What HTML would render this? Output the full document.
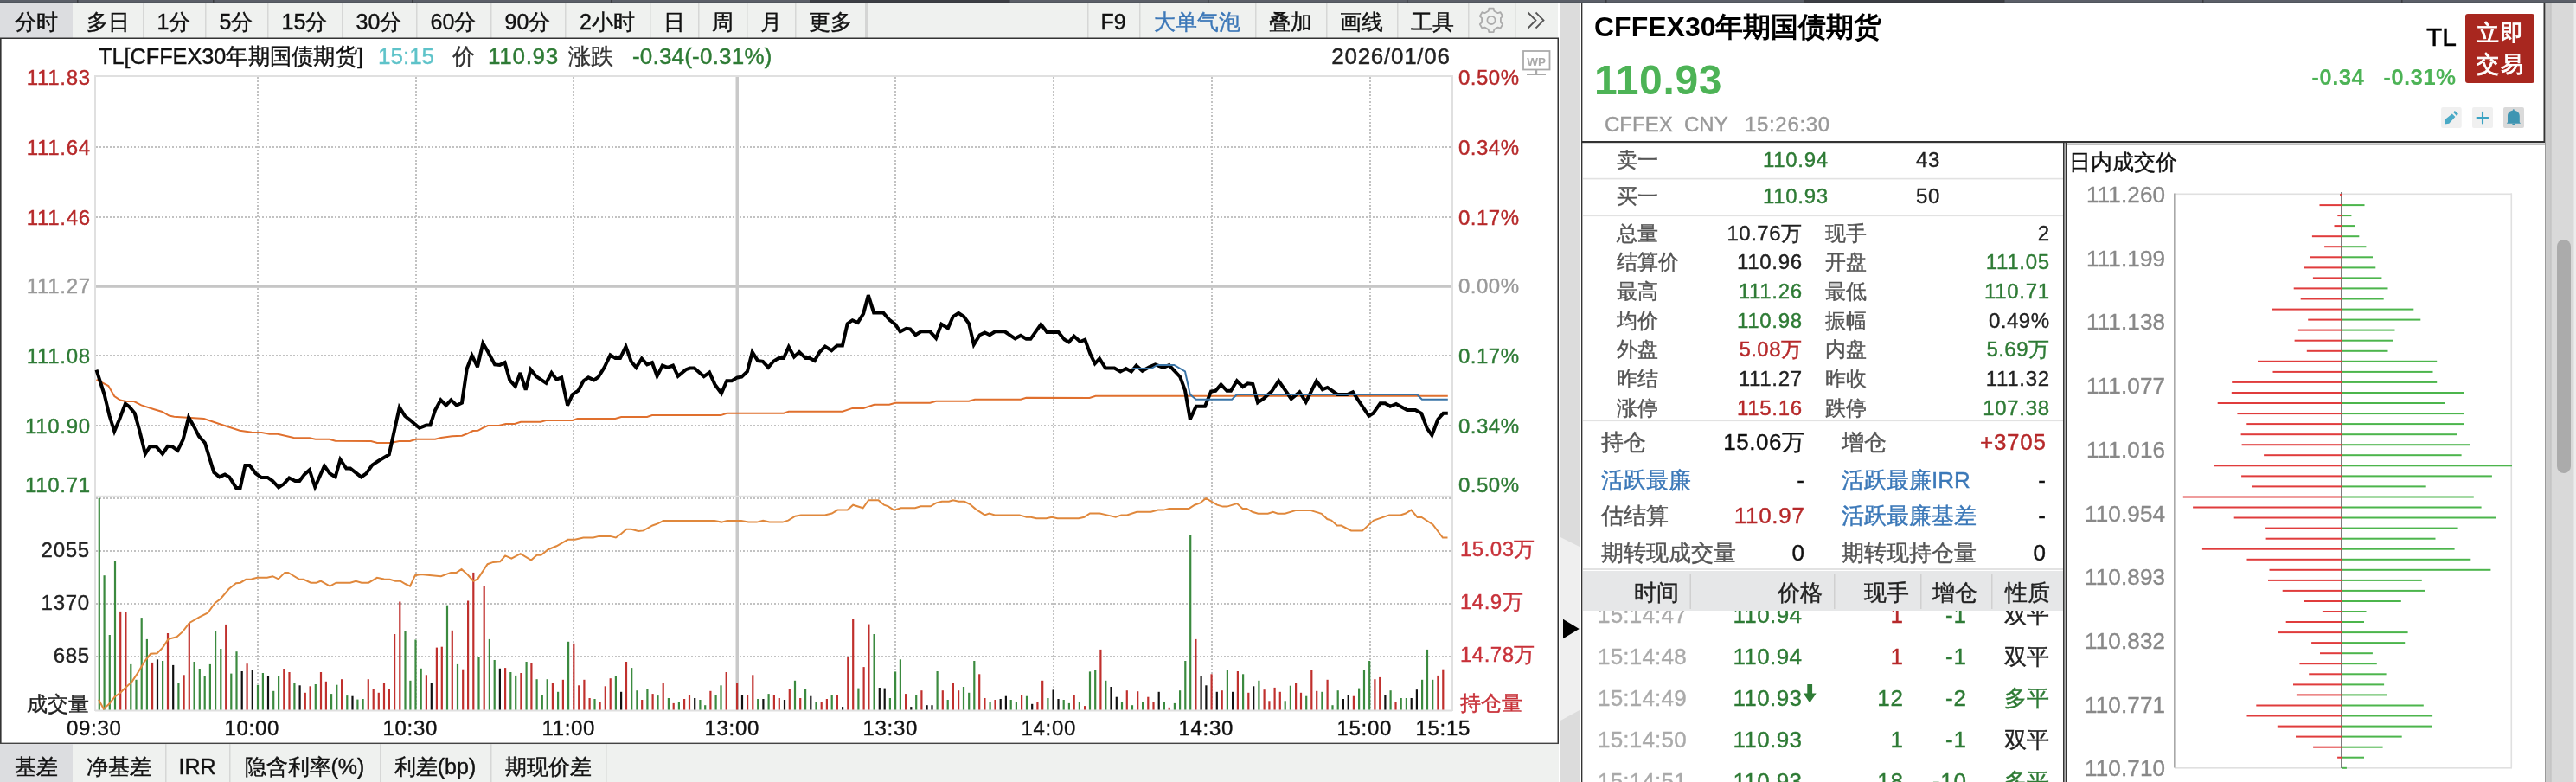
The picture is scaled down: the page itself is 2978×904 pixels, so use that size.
<!DOCTYPE html>
<html><head><meta charset="utf-8"><title>TL CFFEX30年期国债期货</title>
<style>html,body{margin:0;padding:0;background:#fff;overflow:hidden;width:2978px;height:904px}svg{display:block;will-change:transform}text{font-family:"Liberation Sans",sans-serif}</style>
</head><body>
<svg width="2978" height="904" viewBox="0 0 2978 904" font-family="Liberation Sans, sans-serif"><rect x="0" y="0" width="2978" height="4" fill="#5b5f68"/>
<rect x="936" y="0" width="230" height="4" fill="#3c3e44"/>
<rect x="2086" y="0" width="230" height="4" fill="#3c3e44"/>
<rect x="0" y="2.8" width="2978" height="1.2" fill="#2c2e33"/>
<rect x="89" y="0" width="1.5" height="4" fill="#3a3c40"/>
<rect x="246" y="0" width="1.5" height="4" fill="#3a3c40"/>
<rect x="476" y="0" width="1.5" height="4" fill="#3a3c40"/>
<rect x="706" y="0" width="1.5" height="4" fill="#3a3c40"/>
<rect x="936" y="0" width="1.5" height="4" fill="#3a3c40"/>
<rect x="1166" y="0" width="1.5" height="4" fill="#3a3c40"/>
<rect x="1396" y="0" width="1.5" height="4" fill="#3a3c40"/>
<rect x="1626" y="0" width="1.5" height="4" fill="#3a3c40"/>
<rect x="1856" y="0" width="1.5" height="4" fill="#3a3c40"/>
<rect x="2086" y="0" width="1.5" height="4" fill="#3a3c40"/>
<rect x="2316" y="0" width="1.5" height="4" fill="#3a3c40"/>
<rect x="2546" y="0" width="1.5" height="4" fill="#3a3c40"/>
<rect x="2776" y="0" width="1.5" height="4" fill="#3a3c40"/>
<rect x="0" y="4" width="1801" height="40" fill="#eff1ef"/>
<rect x="0" y="4" width="84" height="40" fill="#dcdde0"/>
<rect x="165" y="4" width="1.5" height="40" fill="#d6d7d6"/>
<rect x="237" y="4" width="1.5" height="40" fill="#d6d7d6"/>
<rect x="309" y="4" width="1.5" height="40" fill="#d6d7d6"/>
<rect x="395" y="4" width="1.5" height="40" fill="#d6d7d6"/>
<rect x="481" y="4" width="1.5" height="40" fill="#d6d7d6"/>
<rect x="567" y="4" width="1.5" height="40" fill="#d6d7d6"/>
<rect x="653" y="4" width="1.5" height="40" fill="#d6d7d6"/>
<rect x="751" y="4" width="1.5" height="40" fill="#d6d7d6"/>
<rect x="807" y="4" width="1.5" height="40" fill="#d6d7d6"/>
<rect x="863" y="4" width="1.5" height="40" fill="#d6d7d6"/>
<rect x="919" y="4" width="1.5" height="40" fill="#d6d7d6"/>
<rect x="1000" y="4" width="3.5" height="40" fill="#d4d5d4"/>
<text x="42.0" y="33.5" font-size="25" fill="#111" text-anchor="middle" stroke="#111" stroke-width="0.4" >分时</text>
<text x="124.5" y="33.5" font-size="25" fill="#111" text-anchor="middle" stroke="#111" stroke-width="0.4" >多日</text>
<text x="201.0" y="33.5" font-size="25" fill="#111" text-anchor="middle" stroke="#111" stroke-width="0.4" >1分</text>
<text x="273.0" y="33.5" font-size="25" fill="#111" text-anchor="middle" stroke="#111" stroke-width="0.4" >5分</text>
<text x="352.0" y="33.5" font-size="25" fill="#111" text-anchor="middle" stroke="#111" stroke-width="0.4" >15分</text>
<text x="438.0" y="33.5" font-size="25" fill="#111" text-anchor="middle" stroke="#111" stroke-width="0.4" >30分</text>
<text x="524.0" y="33.5" font-size="25" fill="#111" text-anchor="middle" stroke="#111" stroke-width="0.4" >60分</text>
<text x="610.0" y="33.5" font-size="25" fill="#111" text-anchor="middle" stroke="#111" stroke-width="0.4" >90分</text>
<text x="702.0" y="33.5" font-size="25" fill="#111" text-anchor="middle" stroke="#111" stroke-width="0.4" >2小时</text>
<text x="779.0" y="33.5" font-size="25" fill="#111" text-anchor="middle" stroke="#111" stroke-width="0.4" >日</text>
<text x="835.0" y="33.5" font-size="25" fill="#111" text-anchor="middle" stroke="#111" stroke-width="0.4" >周</text>
<text x="891.0" y="33.5" font-size="25" fill="#111" text-anchor="middle" stroke="#111" stroke-width="0.4" >月</text>
<text x="960.0" y="33.5" font-size="25" fill="#111" text-anchor="middle" stroke="#111" stroke-width="0.4" >更多</text>
<rect x="1257" y="4" width="1.5" height="40" fill="#d6d7d6"/>
<rect x="1317" y="4" width="1.5" height="40" fill="#d6d7d6"/>
<rect x="1451" y="4" width="1.5" height="40" fill="#d6d7d6"/>
<rect x="1533" y="4" width="1.5" height="40" fill="#d6d7d6"/>
<rect x="1615" y="4" width="1.5" height="40" fill="#d6d7d6"/>
<rect x="1697" y="4" width="1.5" height="40" fill="#d6d7d6"/>
<rect x="1751" y="4" width="1.5" height="40" fill="#d6d7d6"/>
<text x="1287.0" y="33.5" font-size="25" fill="#111" text-anchor="middle" stroke="#111" stroke-width="0.4" >F9</text>
<text x="1384.0" y="33.5" font-size="25" fill="#3d78b8" text-anchor="middle" stroke="#3d78b8" stroke-width="0.4" >大单气泡</text>
<text x="1492.0" y="33.5" font-size="25" fill="#111" text-anchor="middle" stroke="#111" stroke-width="0.4" >叠加</text>
<text x="1574.0" y="33.5" font-size="25" fill="#111" text-anchor="middle" stroke="#111" stroke-width="0.4" >画线</text>
<text x="1656.0" y="33.5" font-size="25" fill="#111" text-anchor="middle" stroke="#111" stroke-width="0.4" >工具</text>
<path d="M1720.7,12.7 L1721.3,9.7 L1726.7,9.7 L1727.3,12.7 L1731.6,15.2 L1734.6,14.2 L1737.2,18.8 L1734.9,20.9 L1734.9,25.9 L1737.2,28.0 L1734.6,32.6 L1731.6,31.6 L1727.3,34.1 L1726.7,37.1 L1721.3,37.1 L1720.7,34.1 L1716.4,31.6 L1713.4,32.6 L1710.8,28.0 L1713.1,25.9 L1713.1,20.9 L1710.8,18.8 L1713.4,14.2 L1716.4,15.2 Z" fill="none" stroke="#ababab" stroke-width="1.8" stroke-linejoin="round"/>
<circle cx="1724" cy="23.4" r="4.6" fill="none" stroke="#ababab" stroke-width="1.8"/>
<path d="M1766.5,14.5 L1775.5,23.5 L1766.5,32.5 M1775.5,14.5 L1784.5,23.5 L1775.5,32.5" fill="none" stroke="#555" stroke-width="1.8"/>
<rect x="0" y="43.5" width="1802" height="2" fill="#333"/>
<rect x="0" y="45" width="1802" height="814" fill="#fff"/>
<rect x="0" y="45" width="1.6" height="814" fill="#333"/>
<rect x="1800.5" y="45" width="1.6" height="814" fill="#333"/>
<rect x="0" y="858.6" width="1802" height="1.6" fill="#444"/>
<text x="114.0" y="74" font-size="26" fill="#111" text-anchor="start" stroke="#111" stroke-width="0.4" textLength="306" lengthAdjust="spacingAndGlyphs">TL[CFFEX30年期国债期货]</text>
<text x="437.0" y="74" font-size="26" fill="#5ec3c9" text-anchor="start" stroke="#5ec3c9" stroke-width="0.4" >15:15</text>
<text x="523.0" y="74" font-size="26" fill="#333" text-anchor="start" stroke="#333" stroke-width="0.4" >价</text>
<text x="564.0" y="74" font-size="26" fill="#2e7b35" text-anchor="start" letter-spacing="0.73" stroke="#2e7b35" stroke-width="0.4" >110.93</text>
<text x="657.0" y="74" font-size="26" fill="#333" text-anchor="start" stroke="#333" stroke-width="0.4" >涨跌</text>
<text x="731.0" y="74" font-size="26" fill="#2e7b35" text-anchor="start" letter-spacing="0.20" stroke="#2e7b35" stroke-width="0.4" >-0.34(-0.31%)</text>
<text x="1676.7" y="74" font-size="26" fill="#222" text-anchor="end" letter-spacing="0.73" stroke="#222" stroke-width="0.4" >2026/01/06</text>
<rect x="1761" y="59" width="30.5" height="21.5" fill="none" stroke="#aaa" stroke-width="1.8"/>
<text x="1776.2" y="75.6" font-size="13.5" font-weight="bold" fill="#aaa" text-anchor="middle">WP</text>
<rect x="1775" y="80.5" width="2.2" height="5" fill="#aaa"/>
<rect x="1765" y="85" width="22" height="2" fill="#aaa"/>
<line x1="111" y1="170" x2="1679" y2="170" stroke="#c2c2c2" stroke-width="2" stroke-dasharray="2 2"/>
<line x1="111" y1="251" x2="1679" y2="251" stroke="#c2c2c2" stroke-width="2" stroke-dasharray="2 2"/>
<line x1="111" y1="411" x2="1679" y2="411" stroke="#c2c2c2" stroke-width="2" stroke-dasharray="2 2"/>
<line x1="111" y1="492" x2="1679" y2="492" stroke="#c2c2c2" stroke-width="2" stroke-dasharray="2 2"/>
<line x1="298" y1="89" x2="298" y2="573" stroke="#c2c2c2" stroke-width="2" stroke-dasharray="2 2"/>
<line x1="298" y1="577" x2="298" y2="821" stroke="#c2c2c2" stroke-width="2" stroke-dasharray="2 2"/>
<line x1="481" y1="89" x2="481" y2="573" stroke="#c2c2c2" stroke-width="2" stroke-dasharray="2 2"/>
<line x1="481" y1="577" x2="481" y2="821" stroke="#c2c2c2" stroke-width="2" stroke-dasharray="2 2"/>
<line x1="663" y1="89" x2="663" y2="573" stroke="#c2c2c2" stroke-width="2" stroke-dasharray="2 2"/>
<line x1="663" y1="577" x2="663" y2="821" stroke="#c2c2c2" stroke-width="2" stroke-dasharray="2 2"/>
<line x1="1035" y1="89" x2="1035" y2="573" stroke="#c2c2c2" stroke-width="2" stroke-dasharray="2 2"/>
<line x1="1035" y1="577" x2="1035" y2="821" stroke="#c2c2c2" stroke-width="2" stroke-dasharray="2 2"/>
<line x1="1218" y1="89" x2="1218" y2="573" stroke="#c2c2c2" stroke-width="2" stroke-dasharray="2 2"/>
<line x1="1218" y1="577" x2="1218" y2="821" stroke="#c2c2c2" stroke-width="2" stroke-dasharray="2 2"/>
<line x1="1401" y1="89" x2="1401" y2="573" stroke="#c2c2c2" stroke-width="2" stroke-dasharray="2 2"/>
<line x1="1401" y1="577" x2="1401" y2="821" stroke="#c2c2c2" stroke-width="2" stroke-dasharray="2 2"/>
<line x1="1584" y1="89" x2="1584" y2="573" stroke="#c2c2c2" stroke-width="2" stroke-dasharray="2 2"/>
<line x1="1584" y1="577" x2="1584" y2="821" stroke="#c2c2c2" stroke-width="2" stroke-dasharray="2 2"/>
<line x1="111" y1="576" x2="1679" y2="576" stroke="#c2c2c2" stroke-width="2" stroke-dasharray="2 2"/>
<line x1="111" y1="637" x2="1679" y2="637" stroke="#c2c2c2" stroke-width="2" stroke-dasharray="2 2"/>
<line x1="111" y1="698" x2="1679" y2="698" stroke="#c2c2c2" stroke-width="2" stroke-dasharray="2 2"/>
<line x1="111" y1="759" x2="1679" y2="759" stroke="#c2c2c2" stroke-width="2" stroke-dasharray="2 2"/>
<rect x="110" y="329.3" width="1569" height="3.5" fill="#c6c6c6"/>
<rect x="850.5" y="88" width="3.5" height="733" fill="#c9c9c9"/>
<rect x="110" y="572.8" width="1569" height="2" fill="#e2e2e2"/>
<rect x="110" y="87" width="1569" height="2" fill="#e0e0e0"/>
<rect x="109" y="87" width="2" height="735" fill="#e0e0e0"/>
<rect x="1678" y="87" width="2" height="735" fill="#e0e0e0"/>
<rect x="110" y="820.5" width="1569" height="2" fill="#e0e0e0"/>
<text x="104.7" y="98" font-size="24" fill="#b6292a" text-anchor="end" letter-spacing="0.67" stroke="#b6292a" stroke-width="0.4" >111.83</text>
<text x="104.7" y="179" font-size="24" fill="#b6292a" text-anchor="end" letter-spacing="0.67" stroke="#b6292a" stroke-width="0.4" >111.64</text>
<text x="104.7" y="259.5" font-size="24" fill="#b6292a" text-anchor="end" letter-spacing="0.67" stroke="#b6292a" stroke-width="0.4" >111.46</text>
<text x="104.7" y="339" font-size="24" fill="#999" text-anchor="end" letter-spacing="0.67" stroke="#999" stroke-width="0.4" >111.27</text>
<text x="104.7" y="420" font-size="24" fill="#2e7b35" text-anchor="end" letter-spacing="0.67" stroke="#2e7b35" stroke-width="0.4" >111.08</text>
<text x="104.7" y="500.5" font-size="24" fill="#2e7b35" text-anchor="end" letter-spacing="0.67" stroke="#2e7b35" stroke-width="0.4" >110.90</text>
<text x="104.7" y="569" font-size="24" fill="#2e7b35" text-anchor="end" letter-spacing="0.67" stroke="#2e7b35" stroke-width="0.4" >110.71</text>
<text x="1686.0" y="98" font-size="24" fill="#b6292a" text-anchor="start" letter-spacing="0.48" stroke="#b6292a" stroke-width="0.4" >0.50%</text>
<text x="1686.0" y="179" font-size="24" fill="#b6292a" text-anchor="start" letter-spacing="0.48" stroke="#b6292a" stroke-width="0.4" >0.34%</text>
<text x="1686.0" y="259.5" font-size="24" fill="#b6292a" text-anchor="start" letter-spacing="0.48" stroke="#b6292a" stroke-width="0.4" >0.17%</text>
<text x="1686.0" y="339" font-size="24" fill="#999" text-anchor="start" letter-spacing="0.48" stroke="#999" stroke-width="0.4" >0.00%</text>
<text x="1686.0" y="420" font-size="24" fill="#2e7b35" text-anchor="start" letter-spacing="0.48" stroke="#2e7b35" stroke-width="0.4" >0.17%</text>
<text x="1686.0" y="500.5" font-size="24" fill="#2e7b35" text-anchor="start" letter-spacing="0.48" stroke="#2e7b35" stroke-width="0.4" >0.34%</text>
<text x="1686.0" y="569" font-size="24" fill="#2e7b35" text-anchor="start" letter-spacing="0.48" stroke="#2e7b35" stroke-width="0.4" >0.50%</text>
<text x="103.7" y="644" font-size="24" fill="#222" text-anchor="end" letter-spacing="0.67" stroke="#222" stroke-width="0.4" >2055</text>
<text x="103.7" y="705" font-size="24" fill="#222" text-anchor="end" letter-spacing="0.67" stroke="#222" stroke-width="0.4" >1370</text>
<text x="103.7" y="766" font-size="24" fill="#222" text-anchor="end" letter-spacing="0.67" stroke="#222" stroke-width="0.4" >685</text>
<text x="103.0" y="822" font-size="24" fill="#222" text-anchor="end" stroke="#222" stroke-width="0.4" >成交量</text>
<text x="1688.0" y="643" font-size="24" fill="#c8323a" text-anchor="start" letter-spacing="0.48" stroke="#c8323a" stroke-width="0.4" >15.03万</text>
<text x="1688.0" y="704" font-size="24" fill="#c8323a" text-anchor="start" letter-spacing="0.48" stroke="#c8323a" stroke-width="0.4" >14.9万</text>
<text x="1688.0" y="765" font-size="24" fill="#c8323a" text-anchor="start" letter-spacing="0.48" stroke="#c8323a" stroke-width="0.4" >14.78万</text>
<text x="1688.0" y="821" font-size="24" fill="#c8323a" text-anchor="start" stroke="#c8323a" stroke-width="0.4" >持仓量</text>
<text x="108.8" y="850" font-size="24" fill="#111" text-anchor="middle" letter-spacing="0.67" stroke="#111" stroke-width="0.4" >09:30</text>
<text x="291.3" y="850" font-size="24" fill="#111" text-anchor="middle" letter-spacing="0.67" stroke="#111" stroke-width="0.4" >10:00</text>
<text x="474.3" y="850" font-size="24" fill="#111" text-anchor="middle" letter-spacing="0.67" stroke="#111" stroke-width="0.4" >10:30</text>
<text x="657.3" y="850" font-size="24" fill="#111" text-anchor="middle" letter-spacing="0.67" stroke="#111" stroke-width="0.4" >11:00</text>
<text x="846.3" y="850" font-size="24" fill="#111" text-anchor="middle" letter-spacing="0.67" stroke="#111" stroke-width="0.4" >13:00</text>
<text x="1029.3" y="850" font-size="24" fill="#111" text-anchor="middle" letter-spacing="0.67" stroke="#111" stroke-width="0.4" >13:30</text>
<text x="1212.3" y="850" font-size="24" fill="#111" text-anchor="middle" letter-spacing="0.67" stroke="#111" stroke-width="0.4" >14:00</text>
<text x="1394.3" y="850" font-size="24" fill="#111" text-anchor="middle" letter-spacing="0.67" stroke="#111" stroke-width="0.4" >14:30</text>
<text x="1577.3" y="850" font-size="24" fill="#111" text-anchor="middle" letter-spacing="0.67" stroke="#111" stroke-width="0.4" >15:00</text>
<text x="1668.3" y="850" font-size="24" fill="#111" text-anchor="middle" letter-spacing="0.67" stroke="#111" stroke-width="0.4" >15:15</text>
<rect x="113.7" y="575.9" width="2.2" height="244.6" fill="#3b8a3f"/>
<rect x="119.5" y="665.2" width="2.2" height="155.3" fill="#3b8a3f"/>
<rect x="125.7" y="734.0" width="2.2" height="86.5" fill="#3b8a3f"/>
<rect x="131.9" y="648.2" width="2.2" height="172.3" fill="#3b8a3f"/>
<rect x="138.1" y="706.9" width="2.2" height="113.6" fill="#c0302d"/>
<rect x="144.3" y="707.9" width="2.2" height="112.6" fill="#c0302d"/>
<rect x="150.2" y="767.9" width="2.2" height="52.6" fill="#3b8a3f"/>
<rect x="156.4" y="785.8" width="2.2" height="34.7" fill="#3b8a3f"/>
<rect x="162.6" y="714.1" width="2.2" height="106.4" fill="#3b8a3f"/>
<rect x="168.8" y="738.9" width="2.2" height="81.6" fill="#3b8a3f"/>
<rect x="175.0" y="765.9" width="2.2" height="54.6" fill="#c0302d"/>
<rect x="180.9" y="762.3" width="2.2" height="58.2" fill="#111"/>
<rect x="187.0" y="764.0" width="2.2" height="56.5" fill="#3b8a3f"/>
<rect x="192.9" y="732.0" width="2.2" height="88.5" fill="#c0302d"/>
<rect x="199.1" y="768.9" width="2.2" height="51.6" fill="#111"/>
<rect x="205.3" y="790.0" width="2.2" height="30.5" fill="#3b8a3f"/>
<rect x="211.5" y="780.3" width="2.2" height="40.2" fill="#c0302d"/>
<rect x="217.7" y="720.0" width="2.2" height="100.5" fill="#c0302d"/>
<rect x="223.5" y="765.0" width="2.2" height="55.5" fill="#3b8a3f"/>
<rect x="229.7" y="773.0" width="2.2" height="47.5" fill="#3b8a3f"/>
<rect x="235.6" y="781.9" width="2.2" height="38.6" fill="#3b8a3f"/>
<rect x="241.8" y="767.9" width="2.2" height="52.6" fill="#3b8a3f"/>
<rect x="248.0" y="729.7" width="2.2" height="90.8" fill="#3b8a3f"/>
<rect x="254.2" y="750.0" width="2.2" height="70.5" fill="#3b8a3f"/>
<rect x="260.1" y="721.9" width="2.2" height="98.6" fill="#c0302d"/>
<rect x="266.2" y="778.6" width="2.2" height="41.9" fill="#3b8a3f"/>
<rect x="272.4" y="753.2" width="2.2" height="67.3" fill="#3b8a3f"/>
<rect x="278.6" y="776.0" width="2.2" height="44.5" fill="#111"/>
<rect x="284.5" y="767.2" width="2.2" height="53.3" fill="#c0302d"/>
<rect x="290.7" y="774.7" width="2.2" height="45.8" fill="#111"/>
<rect x="296.9" y="791.7" width="2.2" height="28.8" fill="#3b8a3f"/>
<rect x="302.8" y="778.0" width="2.2" height="42.5" fill="#3b8a3f"/>
<rect x="308.9" y="781.9" width="2.2" height="38.6" fill="#111"/>
<rect x="315.1" y="798.8" width="2.2" height="21.7" fill="#3b8a3f"/>
<rect x="321.0" y="781.9" width="2.2" height="38.6" fill="#3b8a3f"/>
<rect x="327.2" y="773.0" width="2.2" height="47.5" fill="#c0302d"/>
<rect x="333.4" y="777.0" width="2.2" height="43.5" fill="#c0302d"/>
<rect x="339.3" y="789.0" width="2.2" height="31.5" fill="#3b8a3f"/>
<rect x="345.5" y="792.3" width="2.2" height="28.2" fill="#111"/>
<rect x="351.7" y="800.8" width="2.2" height="19.7" fill="#c0302d"/>
<rect x="357.5" y="793.3" width="2.2" height="27.2" fill="#c0302d"/>
<rect x="363.7" y="791.0" width="2.2" height="29.5" fill="#3b8a3f"/>
<rect x="369.9" y="777.0" width="2.2" height="43.5" fill="#c0302d"/>
<rect x="375.8" y="787.8" width="2.2" height="32.7" fill="#c0302d"/>
<rect x="382.0" y="802.1" width="2.2" height="18.4" fill="#3b8a3f"/>
<rect x="388.2" y="791.7" width="2.2" height="28.8" fill="#3b8a3f"/>
<rect x="394.0" y="785.2" width="2.2" height="35.3" fill="#c0302d"/>
<rect x="400.2" y="804.1" width="2.2" height="16.4" fill="#3b8a3f"/>
<rect x="406.4" y="804.7" width="2.2" height="15.8" fill="#111"/>
<rect x="412.3" y="808.6" width="2.2" height="11.9" fill="#3b8a3f"/>
<rect x="418.5" y="808.0" width="2.2" height="12.5" fill="#3b8a3f"/>
<rect x="424.7" y="785.2" width="2.2" height="35.3" fill="#c0302d"/>
<rect x="430.6" y="796.6" width="2.2" height="23.9" fill="#c0302d"/>
<rect x="436.7" y="800.8" width="2.2" height="19.7" fill="#c0302d"/>
<rect x="442.9" y="790.0" width="2.2" height="30.5" fill="#c0302d"/>
<rect x="448.8" y="796.6" width="2.2" height="23.9" fill="#c0302d"/>
<rect x="455.0" y="733.0" width="2.2" height="87.5" fill="#c0302d"/>
<rect x="461.2" y="695.5" width="2.2" height="125.0" fill="#c0302d"/>
<rect x="467.4" y="729.1" width="2.2" height="91.4" fill="#3b8a3f"/>
<rect x="473.3" y="786.8" width="2.2" height="33.7" fill="#3b8a3f"/>
<rect x="479.4" y="739.5" width="2.2" height="81.0" fill="#3b8a3f"/>
<rect x="485.6" y="772.8" width="2.2" height="47.7" fill="#3b8a3f"/>
<rect x="491.8" y="780.3" width="2.2" height="40.2" fill="#c0302d"/>
<rect x="497.7" y="790.0" width="2.2" height="30.5" fill="#111"/>
<rect x="503.8" y="748.6" width="2.2" height="71.9" fill="#c0302d"/>
<rect x="509.7" y="747.7" width="2.2" height="72.8" fill="#c0302d"/>
<rect x="515.9" y="699.7" width="2.2" height="120.8" fill="#3b8a3f"/>
<rect x="521.7" y="728.8" width="2.2" height="91.7" fill="#c0302d"/>
<rect x="527.9" y="767.9" width="2.2" height="52.6" fill="#3b8a3f"/>
<rect x="534.1" y="773.7" width="2.2" height="46.8" fill="#c0302d"/>
<rect x="540.0" y="694.5" width="2.2" height="126.0" fill="#c0302d"/>
<rect x="546.2" y="661.9" width="2.2" height="158.6" fill="#c0302d"/>
<rect x="552.4" y="759.7" width="2.2" height="60.8" fill="#3b8a3f"/>
<rect x="558.6" y="677.6" width="2.2" height="142.9" fill="#c0302d"/>
<rect x="564.8" y="738.9" width="2.2" height="81.6" fill="#3b8a3f"/>
<rect x="570.6" y="763.0" width="2.2" height="57.5" fill="#3b8a3f"/>
<rect x="576.8" y="772.8" width="2.2" height="47.7" fill="#111"/>
<rect x="583.0" y="772.1" width="2.2" height="48.4" fill="#c0302d"/>
<rect x="589.2" y="777.0" width="2.2" height="43.5" fill="#3b8a3f"/>
<rect x="595.1" y="780.9" width="2.2" height="39.6" fill="#3b8a3f"/>
<rect x="601.3" y="778.0" width="2.2" height="42.5" fill="#c0302d"/>
<rect x="607.5" y="765.0" width="2.2" height="55.5" fill="#3b8a3f"/>
<rect x="613.3" y="766.6" width="2.2" height="53.9" fill="#c0302d"/>
<rect x="619.5" y="785.2" width="2.2" height="35.3" fill="#3b8a3f"/>
<rect x="625.7" y="803.7" width="2.2" height="16.8" fill="#3b8a3f"/>
<rect x="631.6" y="785.2" width="2.2" height="35.3" fill="#3b8a3f"/>
<rect x="637.8" y="789.1" width="2.2" height="31.4" fill="#c0302d"/>
<rect x="644.0" y="799.8" width="2.2" height="20.7" fill="#3b8a3f"/>
<rect x="649.8" y="785.8" width="2.2" height="34.7" fill="#c0302d"/>
<rect x="656.0" y="741.8" width="2.2" height="78.7" fill="#3b8a3f"/>
<rect x="662.2" y="743.8" width="2.2" height="76.7" fill="#c0302d"/>
<rect x="668.1" y="792.3" width="2.2" height="28.2" fill="#c0302d"/>
<rect x="674.3" y="785.8" width="2.2" height="34.7" fill="#c0302d"/>
<rect x="680.5" y="807.0" width="2.2" height="13.5" fill="#c0302d"/>
<rect x="686.4" y="808.0" width="2.2" height="12.5" fill="#3b8a3f"/>
<rect x="692.5" y="811.2" width="2.2" height="9.3" fill="#c0302d"/>
<rect x="698.7" y="793.3" width="2.2" height="27.2" fill="#c0302d"/>
<rect x="704.6" y="784.2" width="2.2" height="36.3" fill="#c0302d"/>
<rect x="710.8" y="781.9" width="2.2" height="38.6" fill="#3b8a3f"/>
<rect x="717.0" y="799.8" width="2.2" height="20.7" fill="#111"/>
<rect x="722.9" y="765.0" width="2.2" height="55.5" fill="#c0302d"/>
<rect x="729.1" y="772.1" width="2.2" height="48.4" fill="#3b8a3f"/>
<rect x="735.3" y="798.2" width="2.2" height="22.3" fill="#3b8a3f"/>
<rect x="741.1" y="809.0" width="2.2" height="11.5" fill="#c0302d"/>
<rect x="747.3" y="796.6" width="2.2" height="23.9" fill="#3b8a3f"/>
<rect x="753.5" y="802.1" width="2.2" height="18.4" fill="#c0302d"/>
<rect x="759.4" y="804.1" width="2.2" height="16.4" fill="#3b8a3f"/>
<rect x="765.6" y="790.0" width="2.2" height="30.5" fill="#c0302d"/>
<rect x="771.8" y="807.0" width="2.2" height="13.5" fill="#3b8a3f"/>
<rect x="777.6" y="812.9" width="2.2" height="7.6" fill="#c0302d"/>
<rect x="783.8" y="811.2" width="2.2" height="9.3" fill="#3b8a3f"/>
<rect x="790.0" y="808.0" width="2.2" height="12.5" fill="#c0302d"/>
<rect x="795.9" y="803.1" width="2.2" height="17.4" fill="#c0302d"/>
<rect x="802.1" y="807.0" width="2.2" height="13.5" fill="#111"/>
<rect x="808.3" y="809.0" width="2.2" height="11.5" fill="#3b8a3f"/>
<rect x="814.1" y="815.2" width="2.2" height="5.3" fill="#3b8a3f"/>
<rect x="820.3" y="798.8" width="2.2" height="21.7" fill="#c0302d"/>
<rect x="826.5" y="803.1" width="2.2" height="17.4" fill="#3b8a3f"/>
<rect x="832.4" y="792.3" width="2.2" height="28.2" fill="#3b8a3f"/>
<rect x="838.6" y="777.0" width="2.2" height="43.5" fill="#c0302d"/>
<rect x="851.0" y="789.0" width="2.2" height="31.5" fill="#c0302d"/>
<rect x="856.9" y="803.7" width="2.2" height="16.8" fill="#111"/>
<rect x="863.0" y="803.1" width="2.2" height="17.4" fill="#c0302d"/>
<rect x="869.2" y="780.3" width="2.2" height="40.2" fill="#c0302d"/>
<rect x="875.1" y="808.0" width="2.2" height="12.5" fill="#3b8a3f"/>
<rect x="881.3" y="808.0" width="2.2" height="12.5" fill="#111"/>
<rect x="887.5" y="802.1" width="2.2" height="18.4" fill="#3b8a3f"/>
<rect x="893.8" y="803.7" width="2.2" height="16.8" fill="#c0302d"/>
<rect x="899.7" y="807.0" width="2.2" height="13.5" fill="#c0302d"/>
<rect x="905.9" y="809.0" width="2.2" height="11.5" fill="#111"/>
<rect x="911.7" y="796.6" width="2.2" height="23.9" fill="#c0302d"/>
<rect x="917.9" y="786.8" width="2.2" height="33.7" fill="#3b8a3f"/>
<rect x="924.1" y="807.0" width="2.2" height="13.5" fill="#c0302d"/>
<rect x="930.0" y="796.6" width="2.2" height="23.9" fill="#3b8a3f"/>
<rect x="936.2" y="804.7" width="2.2" height="15.8" fill="#111"/>
<rect x="942.4" y="811.9" width="2.2" height="8.6" fill="#3b8a3f"/>
<rect x="948.6" y="811.9" width="2.2" height="8.6" fill="#c0302d"/>
<rect x="954.8" y="808.0" width="2.2" height="12.5" fill="#c0302d"/>
<rect x="960.6" y="803.1" width="2.2" height="17.4" fill="#3b8a3f"/>
<rect x="966.8" y="803.1" width="2.2" height="17.4" fill="#c0302d"/>
<rect x="973.0" y="817.1" width="2.2" height="3.4" fill="#111"/>
<rect x="979.2" y="759.7" width="2.2" height="60.8" fill="#c0302d"/>
<rect x="985.1" y="716.0" width="2.2" height="104.5" fill="#c0302d"/>
<rect x="991.3" y="795.6" width="2.2" height="24.9" fill="#3b8a3f"/>
<rect x="997.5" y="771.1" width="2.2" height="49.4" fill="#c0302d"/>
<rect x="1003.3" y="721.6" width="2.2" height="98.9" fill="#c0302d"/>
<rect x="1009.5" y="733.0" width="2.2" height="87.5" fill="#3b8a3f"/>
<rect x="1015.7" y="795.0" width="2.2" height="25.5" fill="#111"/>
<rect x="1021.6" y="795.6" width="2.2" height="24.9" fill="#111"/>
<rect x="1027.8" y="807.0" width="2.2" height="13.5" fill="#3b8a3f"/>
<rect x="1034.0" y="776.4" width="2.2" height="44.1" fill="#3b8a3f"/>
<rect x="1039.8" y="762.3" width="2.2" height="58.2" fill="#3b8a3f"/>
<rect x="1046.0" y="802.1" width="2.2" height="18.4" fill="#c0302d"/>
<rect x="1052.2" y="817.1" width="2.2" height="3.4" fill="#111"/>
<rect x="1058.1" y="803.7" width="2.2" height="16.8" fill="#3b8a3f"/>
<rect x="1064.3" y="798.2" width="2.2" height="22.3" fill="#c0302d"/>
<rect x="1070.5" y="815.2" width="2.2" height="5.3" fill="#111"/>
<rect x="1076.4" y="815.2" width="2.2" height="5.3" fill="#111"/>
<rect x="1082.5" y="776.0" width="2.2" height="44.5" fill="#3b8a3f"/>
<rect x="1088.7" y="798.2" width="2.2" height="22.3" fill="#c0302d"/>
<rect x="1094.6" y="809.0" width="2.2" height="11.5" fill="#3b8a3f"/>
<rect x="1100.8" y="790.0" width="2.2" height="30.5" fill="#c0302d"/>
<rect x="1107.0" y="798.2" width="2.2" height="22.3" fill="#c0302d"/>
<rect x="1112.9" y="794.0" width="2.2" height="26.5" fill="#3b8a3f"/>
<rect x="1119.1" y="800.8" width="2.2" height="19.7" fill="#3b8a3f"/>
<rect x="1125.2" y="764.0" width="2.2" height="56.5" fill="#3b8a3f"/>
<rect x="1131.1" y="779.3" width="2.2" height="41.2" fill="#c0302d"/>
<rect x="1137.3" y="807.0" width="2.2" height="13.5" fill="#c0302d"/>
<rect x="1143.5" y="811.2" width="2.2" height="9.3" fill="#3b8a3f"/>
<rect x="1149.4" y="809.0" width="2.2" height="11.5" fill="#c0302d"/>
<rect x="1155.6" y="808.0" width="2.2" height="12.5" fill="#111"/>
<rect x="1161.8" y="804.7" width="2.2" height="15.8" fill="#111"/>
<rect x="1167.6" y="809.0" width="2.2" height="11.5" fill="#3b8a3f"/>
<rect x="1173.8" y="811.2" width="2.2" height="9.3" fill="#3b8a3f"/>
<rect x="1180.0" y="803.1" width="2.2" height="17.4" fill="#c0302d"/>
<rect x="1185.9" y="804.7" width="2.2" height="15.8" fill="#3b8a3f"/>
<rect x="1192.1" y="813.8" width="2.2" height="6.7" fill="#111"/>
<rect x="1198.3" y="811.9" width="2.2" height="8.6" fill="#c0302d"/>
<rect x="1204.1" y="786.8" width="2.2" height="33.7" fill="#c0302d"/>
<rect x="1210.3" y="807.0" width="2.2" height="13.5" fill="#3b8a3f"/>
<rect x="1216.5" y="797.5" width="2.2" height="23.0" fill="#111"/>
<rect x="1222.4" y="808.0" width="2.2" height="12.5" fill="#111"/>
<rect x="1228.6" y="809.0" width="2.2" height="11.5" fill="#3b8a3f"/>
<rect x="1234.8" y="812.9" width="2.2" height="7.6" fill="#3b8a3f"/>
<rect x="1240.6" y="803.7" width="2.2" height="16.8" fill="#c0302d"/>
<rect x="1246.8" y="811.9" width="2.2" height="8.6" fill="#3b8a3f"/>
<rect x="1253.0" y="816.1" width="2.2" height="4.4" fill="#c0302d"/>
<rect x="1258.9" y="776.4" width="2.2" height="44.1" fill="#3b8a3f"/>
<rect x="1265.1" y="774.7" width="2.2" height="45.8" fill="#3b8a3f"/>
<rect x="1271.3" y="750.9" width="2.2" height="69.6" fill="#c0302d"/>
<rect x="1277.2" y="786.8" width="2.2" height="33.7" fill="#3b8a3f"/>
<rect x="1283.4" y="794.0" width="2.2" height="26.5" fill="#111"/>
<rect x="1289.7" y="805.7" width="2.2" height="14.8" fill="#111"/>
<rect x="1295.9" y="811.9" width="2.2" height="8.6" fill="#3b8a3f"/>
<rect x="1301.7" y="798.2" width="2.2" height="22.3" fill="#c0302d"/>
<rect x="1307.9" y="815.2" width="2.2" height="5.3" fill="#3b8a3f"/>
<rect x="1314.1" y="799.2" width="2.2" height="21.3" fill="#c0302d"/>
<rect x="1320.0" y="811.9" width="2.2" height="8.6" fill="#3b8a3f"/>
<rect x="1326.2" y="805.7" width="2.2" height="14.8" fill="#c0302d"/>
<rect x="1332.4" y="811.2" width="2.2" height="9.3" fill="#c0302d"/>
<rect x="1338.6" y="799.8" width="2.2" height="20.7" fill="#111"/>
<rect x="1344.8" y="811.2" width="2.2" height="9.3" fill="#3b8a3f"/>
<rect x="1350.6" y="817.8" width="2.2" height="2.7" fill="#c0302d"/>
<rect x="1356.8" y="812.9" width="2.2" height="7.6" fill="#3b8a3f"/>
<rect x="1363.0" y="798.2" width="2.2" height="22.3" fill="#3b8a3f"/>
<rect x="1369.2" y="764.0" width="2.2" height="56.5" fill="#3b8a3f"/>
<rect x="1375.1" y="618.2" width="2.2" height="202.3" fill="#3b8a3f"/>
<rect x="1381.3" y="738.9" width="2.2" height="81.6" fill="#c0302d"/>
<rect x="1387.5" y="781.9" width="2.2" height="38.6" fill="#111"/>
<rect x="1393.3" y="792.3" width="2.2" height="28.2" fill="#111"/>
<rect x="1399.5" y="779.3" width="2.2" height="41.2" fill="#c0302d"/>
<rect x="1405.7" y="799.8" width="2.2" height="20.7" fill="#111"/>
<rect x="1411.6" y="798.2" width="2.2" height="22.3" fill="#c0302d"/>
<rect x="1417.8" y="774.7" width="2.2" height="45.8" fill="#3b8a3f"/>
<rect x="1424.0" y="799.8" width="2.2" height="20.7" fill="#111"/>
<rect x="1429.8" y="776.0" width="2.2" height="44.5" fill="#c0302d"/>
<rect x="1436.0" y="779.3" width="2.2" height="41.2" fill="#3b8a3f"/>
<rect x="1442.2" y="800.8" width="2.2" height="19.7" fill="#c0302d"/>
<rect x="1448.1" y="793.3" width="2.2" height="27.2" fill="#111"/>
<rect x="1454.3" y="786.8" width="2.2" height="33.7" fill="#3b8a3f"/>
<rect x="1460.5" y="797.2" width="2.2" height="23.3" fill="#c0302d"/>
<rect x="1466.3" y="810.3" width="2.2" height="10.2" fill="#c0302d"/>
<rect x="1472.5" y="794.9" width="2.2" height="25.6" fill="#c0302d"/>
<rect x="1478.7" y="799.8" width="2.2" height="20.7" fill="#c0302d"/>
<rect x="1484.6" y="810.3" width="2.2" height="10.2" fill="#3b8a3f"/>
<rect x="1490.8" y="792.7" width="2.2" height="27.8" fill="#3b8a3f"/>
<rect x="1497.0" y="790.0" width="2.2" height="30.5" fill="#c0302d"/>
<rect x="1502.9" y="800.8" width="2.2" height="19.7" fill="#c0302d"/>
<rect x="1509.1" y="804.7" width="2.2" height="15.8" fill="#3b8a3f"/>
<rect x="1515.2" y="774.7" width="2.2" height="45.8" fill="#c0302d"/>
<rect x="1521.1" y="798.8" width="2.2" height="21.7" fill="#c0302d"/>
<rect x="1527.3" y="799.8" width="2.2" height="20.7" fill="#3b8a3f"/>
<rect x="1533.5" y="785.8" width="2.2" height="34.7" fill="#c0302d"/>
<rect x="1539.4" y="815.2" width="2.2" height="5.3" fill="#3b8a3f"/>
<rect x="1545.6" y="798.2" width="2.2" height="22.3" fill="#3b8a3f"/>
<rect x="1551.8" y="808.0" width="2.2" height="12.5" fill="#111"/>
<rect x="1557.6" y="803.1" width="2.2" height="17.4" fill="#111"/>
<rect x="1563.8" y="804.7" width="2.2" height="15.8" fill="#c0302d"/>
<rect x="1570.0" y="795.6" width="2.2" height="24.9" fill="#3b8a3f"/>
<rect x="1575.9" y="774.7" width="2.2" height="45.8" fill="#3b8a3f"/>
<rect x="1582.1" y="764.0" width="2.2" height="56.5" fill="#3b8a3f"/>
<rect x="1588.3" y="785.2" width="2.2" height="35.3" fill="#c0302d"/>
<rect x="1594.1" y="782.9" width="2.2" height="37.6" fill="#c0302d"/>
<rect x="1600.3" y="803.1" width="2.2" height="17.4" fill="#111"/>
<rect x="1606.5" y="798.2" width="2.2" height="22.3" fill="#3b8a3f"/>
<rect x="1612.4" y="811.9" width="2.2" height="8.6" fill="#c0302d"/>
<rect x="1618.6" y="807.0" width="2.2" height="13.5" fill="#3b8a3f"/>
<rect x="1624.8" y="807.0" width="2.2" height="13.5" fill="#3b8a3f"/>
<rect x="1630.6" y="807.0" width="2.2" height="13.5" fill="#111"/>
<rect x="1636.8" y="797.2" width="2.2" height="23.3" fill="#111"/>
<rect x="1643.0" y="785.8" width="2.2" height="34.7" fill="#3b8a3f"/>
<rect x="1648.9" y="750.9" width="2.2" height="69.6" fill="#3b8a3f"/>
<rect x="1655.1" y="785.8" width="2.2" height="34.7" fill="#3b8a3f"/>
<rect x="1661.3" y="780.9" width="2.2" height="39.6" fill="#c0302d"/>
<rect x="1667.2" y="773.7" width="2.2" height="46.8" fill="#c0302d"/>
<path d="M111.5,439.0 L125.3,446.0 L132.2,458.0 L139.0,462.6 L146.0,464.0 L155.0,464.0 L163.3,468.4 L178.3,473.2 L187.5,476.0 L195.5,480.6 L201.3,481.7 L212.8,482.4 L235.8,484.0 L256.5,491.0 L277.2,497.8 L291.0,499.7 L302.5,500.0 L311.7,501.7 L321.0,501.7 L339.4,505.9 L357.8,506.3 L364.7,507.7 L380.8,507.7 L387.7,509.8 L429.0,510.0 L436.0,512.0 L452.0,512.0 L461.3,510.0 L474.0,510.0 L481.0,507.7 L503.0,507.7 L510.0,505.9 L522.6,504.3 L534.0,503.8 L539.8,501.5 L546.7,498.0 L552.5,497.8 L558.3,494.6 L564.0,492.0 L576.7,492.0 L584.7,490.0 L595.0,490.0 L602.0,487.7 L625.0,487.7 L631.9,485.9 L661.8,485.9 L667.6,484.0 L711.3,484.0 L718.2,482.0 L748.1,482.0 L753.9,480.1 L833.3,480.1 L840.2,477.8 L906.0,477.7 L911.8,475.8 L973.9,475.8 L985.4,471.9 L998.1,471.9 L1010.7,467.8 L1028.0,467.8 L1034.9,465.7 L1075.2,465.7 L1082.1,463.8 L1120.1,463.8 L1127.0,461.8 L1180.0,461.8 L1186.4,459.7 L1259.6,459.9 L1266.5,457.8 L1673.8,457.8" fill="none" stroke="#e0702e" stroke-width="2"/>
<path d="M111.5,427.6 L120.7,456.4 L126.5,480.5 L132.2,498.5 L138.0,485.0 L144.9,466.7 L149.5,470.2 L155.7,477.8 L161.0,496.7 L167.9,524.7 L173.2,516.2 L180.5,516.2 L187.9,524.7 L193.9,515.8 L199.0,516.2 L205.4,520.8 L211.6,508.2 L218.1,482.4 L224.3,493.2 L230.0,504.3 L236.9,512.0 L247.3,546.1 L253.7,551.4 L260.0,548.4 L265.2,551.4 L273.0,563.9 L277.7,563.9 L283.4,538.1 L288.7,538.1 L295.6,547.3 L302.0,551.9 L309.4,551.9 L315.2,556.0 L322.1,563.4 L328.3,559.3 L334.3,552.4 L341.2,556.0 L346.3,556.0 L352.0,548.4 L357.8,543.2 L364.2,563.0 L375.0,538.5 L381.2,547.3 L387.7,551.4 L393.4,531.2 L400.3,541.5 L405.0,541.5 L417.6,551.4 L423.4,547.3 L430.3,537.6 L437.2,533.0 L449.8,525.4 L461.8,470.9 L468.2,481.0 L474.0,485.6 L484.8,494.8 L492.7,491.6 L497.3,491.6 L503.0,474.4 L509.5,462.4 L515.7,468.6 L521.4,462.4 L527.9,468.6 L534.0,465.6 L539.8,426.0 L545.6,411.0 L552.0,424.2 L558.3,396.8 L564.0,406.5 L572.0,421.4 L577.8,421.9 L583.6,419.1 L589.3,439.4 L595.8,446.7 L601.5,431.0 L607.7,450.7 L613.5,427.2 L620.0,435.2 L631.4,442.8 L637.6,431.0 L643.4,438.7 L649.2,436.4 L656.1,468.6 L661.8,456.0 L668.7,451.3 L674.5,440.3 L680.2,436.4 L686.7,439.4 L691.7,435.9 L698.6,424.9 L705.5,410.4 L711.3,414.0 L717.0,414.0 L723.5,400.7 L729.7,418.0 L735.5,424.9 L741.9,414.5 L748.1,421.4 L753.9,419.1 L759.6,434.8 L765.8,422.6 L771.8,424.9 L778.0,422.6 L783.8,434.8 L793.0,427.2 L797.6,425.6 L802.7,425.6 L813.7,435.2 L820.2,430.6 L826.4,444.4 L834.0,454.8 L840.2,440.3 L846.0,440.3 L852.4,436.4 L857.4,435.7 L863.9,429.5 L869.7,407.0 L876.1,417.1 L881.9,417.8 L888.1,424.7 L894.1,417.8 L900.3,413.9 L906.0,413.9 L911.8,401.0 L918.0,412.5 L924.0,407.0 L931.3,413.9 L936.0,413.9 L941.7,417.1 L947.5,407.0 L953.9,400.6 L961.3,405.2 L967.7,399.4 L973.9,399.4 L979.7,374.1 L985.4,370.2 L991.6,372.9 L998.1,362.6 L1003.8,341.2 L1010.1,361.4 L1021.1,361.4 L1028.0,369.5 L1034.9,374.8 L1040.7,383.3 L1047.6,379.8 L1052.2,380.3 L1058.4,387.2 L1064.8,383.3 L1075.2,383.3 L1082.1,390.9 L1088.3,374.8 L1095.9,379.4 L1101.7,366.0 L1108.1,361.9 L1114.3,366.0 L1120.1,374.1 L1125.8,398.3 L1132.7,387.2 L1138.5,384.4 L1144.2,387.2 L1150.4,383.3 L1161.5,383.3 L1173.5,391.3 L1179.9,387.9 L1186.4,391.8 L1191.4,391.8 L1203.4,374.8 L1210.3,384.0 L1223.6,384.0 L1230.5,392.5 L1235.6,395.5 L1241.6,388.6 L1248.7,395.0 L1254.3,392.7 L1260.7,409.9 L1265.8,420.3 L1271.1,414.5 L1278.0,425.6 L1288.3,425.6 L1295.2,429.5 L1301.7,426.0 L1307.9,429.5 L1313.6,422.6 L1320.6,428.8 L1328.6,424.2 L1335.5,421.4 L1344.7,424.9 L1351.6,422.1 L1357.4,428.3 L1364.3,435.7 L1370.0,451.3 L1375.8,484.7 L1382.7,469.8 L1393.0,469.8 L1400.0,452.5 L1405.2,451.8 L1411.5,444.4 L1418.4,451.8 L1423.0,451.8 L1429.9,440.3 L1436.8,447.2 L1442.5,443.3 L1448.3,444.0 L1454.0,465.2 L1461.0,460.6 L1470.1,452.5 L1478.2,440.3 L1485.1,450.2 L1492.7,461.0 L1502.4,453.2 L1509.7,464.7 L1521.9,440.3 L1528.8,450.2 L1534.6,447.9 L1546.1,456.0 L1557.6,456.0 L1564.0,453.2 L1573.7,467.9 L1582.5,480.8 L1587.5,477.8 L1595.6,466.3 L1601.3,466.3 L1607.1,469.8 L1614.0,467.0 L1626.7,473.9 L1636.3,473.9 L1643.2,477.8 L1649.7,495.1 L1655.4,503.1 L1662.3,484.7 L1668.5,477.8 L1673.8,477.8" fill="none" stroke="#000" stroke-width="4" stroke-linejoin="miter" stroke-miterlimit="3"/>
<path d="M1309.0,426.0 L1331.0,426.0 L1337.8,421.9 L1357.4,421.9 L1370.0,429.5 L1375.8,456.0 L1382.7,461.7 L1424.1,461.7 L1429.9,456.0 L1638.2,456.0 L1643.9,461.7 L1673.8,461.7" fill="none" stroke="#3a74a6" stroke-width="2"/>
<path d="M114.1,808.6 L119.7,819.4 L126.2,813.8 L132.7,805.4 L139.2,800.8 L145.8,794.3 L152.3,788.4 L158.8,778.6 L166.9,765.0 L174.1,755.8 L181.6,755.2 L188.1,748.6 L194.6,738.9 L204.4,736.3 L211.0,730.4 L219.1,720.0 L230.5,713.4 L240.3,708.5 L248.4,697.1 L255.0,692.2 L264.7,680.8 L272.9,674.3 L277.8,673.7 L284.3,669.8 L290.8,669.4 L297.3,667.8 L308.8,667.8 L315.3,666.2 L321.8,669.4 L329.3,661.9 L333.2,661.9 L346.2,669.8 L351.1,669.8 L359.3,673.7 L365.8,673.7 L370.7,671.7 L381.4,677.6 L388.6,673.7 L404.9,673.7 L411.4,671.7 L418.0,673.7 L426.1,673.7 L435.9,667.8 L444.0,669.4 L450.6,669.8 L457.1,671.7 L462.9,671.7 L468.5,675.0 L474.0,677.6 L479.9,665.2 L486.4,663.9 L509.8,666.2 L521.2,661.9 L527.7,661.9 L533.6,658.0 L540.8,664.5 L547.3,671.7 L552.2,669.4 L563.6,652.2 L570.1,649.9 L578.2,649.2 L584.1,642.4 L591.3,645.6 L601.7,640.1 L614.1,647.6 L620.6,641.7 L625.5,641.7 L633.7,635.2 L643.4,631.3 L656.5,623.8 L664.6,623.8 L674.4,621.5 L685.8,621.5 L692.3,619.9 L705.4,619.9 L711.9,621.5 L717.8,617.3 L724.3,611.7 L729.8,611.7 L738.0,614.0 L743.8,613.4 L754.3,607.5 L760.8,605.2 L766.7,601.9 L826.0,601.9 L834.1,603.6 L840.7,601.9 L857.0,601.9 L865.1,603.6 L874.9,603.6 L882.1,601.9 L889.6,603.6 L904.7,603.6 L911.2,601.6 L919.3,596.7 L925.9,595.4 L953.6,595.4 L961.7,593.5 L968.2,589.6 L979.7,589.6 L986.2,583.7 L997.6,587.3 L1004.1,578.2 L1015.5,578.2 L1022.0,583.7 L1026.9,585.3 L1033.4,589.6 L1041.6,587.3 L1057.9,587.3 L1064.4,585.3 L1075.8,585.3 L1082.3,581.4 L1088.9,579.8 L1097.0,579.8 L1101.9,578.2 L1108.4,579.8 L1114.9,579.8 L1121.5,583.0 L1128.0,588.6 L1138.4,595.4 L1143.6,593.5 L1150.1,595.4 L1178.5,595.4 L1186.7,597.7 L1191.6,597.7 L1198.1,599.3 L1209.5,599.3 L1216.0,597.7 L1222.5,599.3 L1247.0,599.3 L1253.5,597.7 L1260.0,593.5 L1271.4,593.5 L1279.6,595.4 L1289.8,597.7 L1296.3,595.4 L1302.8,595.4 L1314.2,591.8 L1330.5,591.8 L1338.7,589.6 L1345.2,589.6 L1351.7,587.9 L1374.5,587.9 L1381.1,583.7 L1387.6,581.4 L1394.1,575.9 L1400.6,579.8 L1407.1,583.7 L1413.7,585.6 L1418.5,585.6 L1430.0,582.1 L1436.5,587.9 L1441.4,587.9 L1447.9,591.8 L1454.4,593.8 L1465.8,593.8 L1471.7,591.8 L1477.2,593.8 L1485.4,593.8 L1498.4,589.9 L1514.7,589.9 L1527.8,593.8 L1534.3,600.0 L1539.2,601.6 L1545.7,607.5 L1550.6,607.5 L1562.0,613.4 L1575.0,613.4 L1588.1,601.6 L1606.0,595.4 L1619.0,595.4 L1624.9,593.5 L1631.4,589.6 L1638.6,598.0 L1643.5,598.0 L1656.5,606.5 L1667.9,621.5 L1673.5,621.5" fill="none" stroke="#e0883c" stroke-width="2"/>
<rect x="0" y="860.2" width="1802" height="45" fill="#eff1ef"/>
<rect x="0" y="860.2" width="84" height="45" fill="#dcdde0"/>
<rect x="191" y="860" width="1.5" height="44" fill="#d6d7d6"/>
<rect x="265" y="860" width="1.5" height="44" fill="#d6d7d6"/>
<rect x="439" y="860" width="1.5" height="44" fill="#d6d7d6"/>
<rect x="567" y="860" width="1.5" height="44" fill="#d6d7d6"/>
<rect x="700" y="860" width="1.5" height="44" fill="#d6d7d6"/>
<text x="42.0" y="895" font-size="25" fill="#111" text-anchor="middle" stroke="#111" stroke-width="0.4" >基差</text>
<text x="137.5" y="895" font-size="25" fill="#111" text-anchor="middle" stroke="#111" stroke-width="0.4" >净基差</text>
<text x="228.0" y="895" font-size="25" fill="#111" text-anchor="middle" stroke="#111" stroke-width="0.4" >IRR</text>
<text x="352.0" y="895" font-size="25" fill="#111" text-anchor="middle" stroke="#111" stroke-width="0.4" >隐含利率(%)</text>
<text x="503.0" y="895" font-size="25" fill="#111" text-anchor="middle" stroke="#111" stroke-width="0.4" >利差(bp)</text>
<text x="633.5" y="895" font-size="25" fill="#111" text-anchor="middle" stroke="#111" stroke-width="0.4" >期现价差</text>
<rect x="1802" y="4" width="26.5" height="900" fill="#fff"/>
<rect x="1804" y="4" width="22" height="900" fill="#dcdcdc"/>
<path d="M1804,621 L1826,632 L1826,821 L1804,833 Z" fill="#efefef"/>
<path d="M1807,715.7 L1825.7,727 L1807,738.3 Z" fill="#000"/>
<rect x="1828" y="4" width="1.6" height="900" fill="#333"/>
<rect x="1829.6" y="4" width="1112" height="900" fill="#fff"/>
<text x="1843.0" y="42" font-size="32" fill="#000" text-anchor="start" font-weight="bold" >CFFEX30年期国债期货</text>
<text x="1843.0" y="109" font-size="48" fill="#4db356" text-anchor="start" font-weight="bold" letter-spacing="0.67" >110.93</text>
<text x="1855.0" y="152" font-size="24" fill="#999" text-anchor="start" stroke="#999" stroke-width="0.4" xml:space="preserve">CFFEX  CNY</text>
<text x="2017.0" y="152" font-size="24" fill="#999" text-anchor="start" letter-spacing="0.67" stroke="#999" stroke-width="0.4" >15:26:30</text>
<text x="2840.0" y="53" font-size="30" fill="#000" text-anchor="end" stroke="#000" stroke-width="0.4" >TL</text>
<text x="2733.4" y="98" font-size="26" fill="#4db356" text-anchor="end" font-weight="bold" letter-spacing="0.36" >-0.34</text>
<text x="2839.3" y="98" font-size="26" fill="#4db356" text-anchor="end" font-weight="bold" letter-spacing="0.26" >-0.31%</text>
<rect x="2850" y="16" width="80" height="80" rx="3" fill="#a8271f"/>
<text x="2891.0" y="47" font-size="26" fill="#fff" text-anchor="middle" font-weight="500" letter-spacing="2.00" stroke="#fff" stroke-width="0.4" style="stroke-width:0.9px">立即</text>
<text x="2891.0" y="82.5" font-size="26" fill="#fff" text-anchor="middle" font-weight="500" letter-spacing="2.00" stroke="#fff" stroke-width="0.4" style="stroke-width:0.9px">交易</text>
<rect x="2822.1" y="124" width="23.6" height="24" rx="2" fill="#f0f0f0"/>
<rect x="2858" y="124" width="24" height="24" rx="2" fill="#f0f0f0"/>
<rect x="2894" y="124" width="24" height="24" rx="2" fill="#dadada"/>
<path d="M2826.1,143.6 L2826.4,138.3 L2834.8,131.4 L2838.4,135.1 L2831.3,142.8 Z M2836.1,129.8 L2837.9,127.9 L2842,131.7 L2839.8,133.8 Z" fill="#4aaac6"/>
<path d="M2870,129.8 V142.4 M2863.6,136 H2876.3" stroke="#3ba3c3" stroke-width="2.1" stroke-linecap="round"/>
<path d="M2897.8,142.8 L2899,141.2 L2899,134 C2899,130.5 2901.5,128 2905.8,127.6 C2910.1,128 2912.8,130.5 2912.8,134 L2912.8,141.2 L2914.1,142.8 Z" fill="#3f95b2"/>
<circle cx="2905.8" cy="127.3" r="1" fill="#3f95b2"/>
<path d="M2904.2,142.8 A1.6,1.6 0 0 0 2907.4,142.8 Z" fill="#3f95b2"/>
<rect x="1829" y="163" width="1113" height="2.2" fill="#333"/>
<rect x="2940.5" y="4" width="1.6" height="161" fill="#333"/>
<rect x="1830" y="205.8" width="555" height="1.6" fill="#e2e2e2"/>
<rect x="1830" y="248.5" width="555" height="1.6" fill="#e2e2e2"/>
<text x="1869.0" y="193" font-size="24" fill="#555" text-anchor="start" stroke="#555" stroke-width="0.4" >卖一</text>
<text x="2113.7" y="193" font-size="24" fill="#2e7b35" text-anchor="end" letter-spacing="0.67" stroke="#2e7b35" stroke-width="0.4" >110.94</text>
<text x="2215.0" y="193" font-size="24" fill="#222" text-anchor="start" letter-spacing="0.67" stroke="#222" stroke-width="0.4" >43</text>
<text x="1869.0" y="235" font-size="24" fill="#555" text-anchor="start" stroke="#555" stroke-width="0.4" >买一</text>
<text x="2113.7" y="235" font-size="24" fill="#2e7b35" text-anchor="end" letter-spacing="0.67" stroke="#2e7b35" stroke-width="0.4" >110.93</text>
<text x="2215.0" y="235" font-size="24" fill="#222" text-anchor="start" letter-spacing="0.67" stroke="#222" stroke-width="0.4" >50</text>
<text x="1869.0" y="277.5" font-size="24" fill="#555" text-anchor="start" stroke="#555" stroke-width="0.4" >总量</text>
<text x="2083.5" y="277.5" font-size="24" fill="#222" text-anchor="end" letter-spacing="0.48" stroke="#222" stroke-width="0.4" >10.76万</text>
<text x="2110.0" y="277.5" font-size="24" fill="#555" text-anchor="start" stroke="#555" stroke-width="0.4" >现手</text>
<text x="2369.7" y="277.5" font-size="24" fill="#222" text-anchor="end" letter-spacing="0.67" stroke="#222" stroke-width="0.4" >2</text>
<text x="1869.0" y="311.2" font-size="24" fill="#555" text-anchor="start" stroke="#555" stroke-width="0.4" >结算价</text>
<text x="2083.7" y="311.2" font-size="24" fill="#222" text-anchor="end" letter-spacing="0.67" stroke="#222" stroke-width="0.4" >110.96</text>
<text x="2110.0" y="311.2" font-size="24" fill="#555" text-anchor="start" stroke="#555" stroke-width="0.4" >开盘</text>
<text x="2369.7" y="311.2" font-size="24" fill="#2e7b35" text-anchor="end" letter-spacing="0.67" stroke="#2e7b35" stroke-width="0.4" >111.05</text>
<text x="1869.0" y="344.9" font-size="24" fill="#555" text-anchor="start" stroke="#555" stroke-width="0.4" >最高</text>
<text x="2083.7" y="344.9" font-size="24" fill="#2e7b35" text-anchor="end" letter-spacing="0.67" stroke="#2e7b35" stroke-width="0.4" >111.26</text>
<text x="2110.0" y="344.9" font-size="24" fill="#555" text-anchor="start" stroke="#555" stroke-width="0.4" >最低</text>
<text x="2369.7" y="344.9" font-size="24" fill="#2e7b35" text-anchor="end" letter-spacing="0.67" stroke="#2e7b35" stroke-width="0.4" >110.71</text>
<text x="1869.0" y="378.6" font-size="24" fill="#555" text-anchor="start" stroke="#555" stroke-width="0.4" >均价</text>
<text x="2083.7" y="378.6" font-size="24" fill="#2e7b35" text-anchor="end" letter-spacing="0.67" stroke="#2e7b35" stroke-width="0.4" >110.98</text>
<text x="2110.0" y="378.6" font-size="24" fill="#555" text-anchor="start" stroke="#555" stroke-width="0.4" >振幅</text>
<text x="2369.5" y="378.6" font-size="24" fill="#222" text-anchor="end" letter-spacing="0.48" stroke="#222" stroke-width="0.4" >0.49%</text>
<text x="1869.0" y="412.3" font-size="24" fill="#555" text-anchor="start" stroke="#555" stroke-width="0.4" >外盘</text>
<text x="2083.5" y="412.3" font-size="24" fill="#b6292a" text-anchor="end" letter-spacing="0.48" stroke="#b6292a" stroke-width="0.4" >5.08万</text>
<text x="2110.0" y="412.3" font-size="24" fill="#555" text-anchor="start" stroke="#555" stroke-width="0.4" >内盘</text>
<text x="2369.5" y="412.3" font-size="24" fill="#2e7b35" text-anchor="end" letter-spacing="0.48" stroke="#2e7b35" stroke-width="0.4" >5.69万</text>
<text x="1869.0" y="446.0" font-size="24" fill="#555" text-anchor="start" stroke="#555" stroke-width="0.4" >昨结</text>
<text x="2083.7" y="446.0" font-size="24" fill="#222" text-anchor="end" letter-spacing="0.67" stroke="#222" stroke-width="0.4" >111.27</text>
<text x="2110.0" y="446.0" font-size="24" fill="#555" text-anchor="start" stroke="#555" stroke-width="0.4" >昨收</text>
<text x="2369.7" y="446.0" font-size="24" fill="#222" text-anchor="end" letter-spacing="0.67" stroke="#222" stroke-width="0.4" >111.32</text>
<text x="1869.0" y="479.70000000000005" font-size="24" fill="#555" text-anchor="start" stroke="#555" stroke-width="0.4" >涨停</text>
<text x="2083.7" y="479.70000000000005" font-size="24" fill="#b6292a" text-anchor="end" letter-spacing="0.67" stroke="#b6292a" stroke-width="0.4" >115.16</text>
<text x="2110.0" y="479.70000000000005" font-size="24" fill="#555" text-anchor="start" stroke="#555" stroke-width="0.4" >跌停</text>
<text x="2369.7" y="479.70000000000005" font-size="24" fill="#2e7b35" text-anchor="end" letter-spacing="0.67" stroke="#2e7b35" stroke-width="0.4" >107.38</text>
<rect x="1830" y="485.5" width="555" height="1.6" fill="#e2e2e2"/>
<text x="1851.0" y="520" font-size="26" fill="#555" text-anchor="start" stroke="#555" stroke-width="0.4" >持仓</text>
<text x="2086.5" y="520" font-size="26" fill="#111" text-anchor="end" letter-spacing="0.52" stroke="#111" stroke-width="0.4" >15.06万</text>
<text x="2129.0" y="520" font-size="26" fill="#555" text-anchor="start" stroke="#555" stroke-width="0.4" >增仓</text>
<text x="2365.7" y="520" font-size="26" fill="#b6292a" text-anchor="end" letter-spacing="0.73" stroke="#b6292a" stroke-width="0.4" >+3705</text>
<text x="1851.0" y="563.5" font-size="26" fill="#3b78b8" text-anchor="start" stroke="#3b78b8" stroke-width="0.4" >活跃最廉</text>
<text x="2086.7" y="563.5" font-size="26" fill="#111" text-anchor="end" letter-spacing="0.73" stroke="#111" stroke-width="0.4" >-</text>
<text x="2129.0" y="563.5" font-size="26" fill="#3b78b8" text-anchor="start" stroke="#3b78b8" stroke-width="0.4" >活跃最廉IRR</text>
<text x="2365.7" y="563.5" font-size="26" fill="#111" text-anchor="end" letter-spacing="0.73" stroke="#111" stroke-width="0.4" >-</text>
<text x="1851.0" y="604.5" font-size="26" fill="#555" text-anchor="start" stroke="#555" stroke-width="0.4" >估结算</text>
<text x="2086.7" y="604.5" font-size="26" fill="#b6292a" text-anchor="end" letter-spacing="0.73" stroke="#b6292a" stroke-width="0.4" >110.97</text>
<text x="2129.0" y="604.5" font-size="26" fill="#3b78b8" text-anchor="start" stroke="#3b78b8" stroke-width="0.4" >活跃最廉基差</text>
<text x="2365.7" y="604.5" font-size="26" fill="#111" text-anchor="end" letter-spacing="0.73" stroke="#111" stroke-width="0.4" >-</text>
<text x="1851.0" y="647.5" font-size="26" fill="#555" text-anchor="start" stroke="#555" stroke-width="0.4" >期转现成交量</text>
<text x="2086.7" y="647.5" font-size="26" fill="#111" text-anchor="end" letter-spacing="0.73" stroke="#111" stroke-width="0.4" >0</text>
<text x="2129.0" y="647.5" font-size="26" fill="#555" text-anchor="start" stroke="#555" stroke-width="0.4" >期转现持仓量</text>
<text x="2365.7" y="647.5" font-size="26" fill="#111" text-anchor="end" letter-spacing="0.73" stroke="#111" stroke-width="0.4" >0</text>
<rect x="1830" y="657" width="555" height="2" fill="#e2e2e2"/>
<clipPath id="tc"><rect x="1830" y="706" width="555" height="198"/></clipPath>
<g clip-path="url(#tc)">
<text x="1847.0" y="720.0" font-size="26" fill="#aaa" text-anchor="start" letter-spacing="0.20" stroke="#aaa" stroke-width="0.4" >15:14:47</text>
<text x="2083.4" y="720.0" font-size="26" fill="#2e7b35" text-anchor="end" letter-spacing="0.40" stroke="#2e7b35" stroke-width="0.4" >110.94</text>
<text x="2200.7" y="720.0" font-size="26" fill="#b6292a" text-anchor="end" letter-spacing="0.73" stroke="#b6292a" stroke-width="0.4" >1</text>
<text x="2273.7" y="720.0" font-size="26" fill="#2e7b35" text-anchor="end" letter-spacing="0.73" stroke="#2e7b35" stroke-width="0.4" >-1</text>
<text x="2369.0" y="720.0" font-size="26" fill="#222" text-anchor="end" stroke="#222" stroke-width="0.4" >双平</text>
<text x="1847.0" y="768.1" font-size="26" fill="#aaa" text-anchor="start" letter-spacing="0.20" stroke="#aaa" stroke-width="0.4" >15:14:48</text>
<text x="2083.4" y="768.1" font-size="26" fill="#2e7b35" text-anchor="end" letter-spacing="0.40" stroke="#2e7b35" stroke-width="0.4" >110.94</text>
<text x="2200.7" y="768.1" font-size="26" fill="#b6292a" text-anchor="end" letter-spacing="0.73" stroke="#b6292a" stroke-width="0.4" >1</text>
<text x="2273.7" y="768.1" font-size="26" fill="#2e7b35" text-anchor="end" letter-spacing="0.73" stroke="#2e7b35" stroke-width="0.4" >-1</text>
<text x="2369.0" y="768.1" font-size="26" fill="#222" text-anchor="end" stroke="#222" stroke-width="0.4" >双平</text>
<text x="1847.0" y="816.2" font-size="26" fill="#aaa" text-anchor="start" letter-spacing="0.20" stroke="#aaa" stroke-width="0.4" >15:14:49</text>
<text x="2083.4" y="816.2" font-size="26" fill="#2e7b35" text-anchor="end" letter-spacing="0.40" stroke="#2e7b35" stroke-width="0.4" >110.93</text>
<text x="2200.7" y="816.2" font-size="26" fill="#2e7b35" text-anchor="end" letter-spacing="0.73" stroke="#2e7b35" stroke-width="0.4" >12</text>
<text x="2273.7" y="816.2" font-size="26" fill="#2e7b35" text-anchor="end" letter-spacing="0.73" stroke="#2e7b35" stroke-width="0.4" >-2</text>
<text x="2369.0" y="816.2" font-size="26" fill="#2e7b35" text-anchor="end" stroke="#2e7b35" stroke-width="0.4" >多平</text>
<text x="1847.0" y="864.3" font-size="26" fill="#aaa" text-anchor="start" letter-spacing="0.20" stroke="#aaa" stroke-width="0.4" >15:14:50</text>
<text x="2083.4" y="864.3" font-size="26" fill="#2e7b35" text-anchor="end" letter-spacing="0.40" stroke="#2e7b35" stroke-width="0.4" >110.93</text>
<text x="2200.7" y="864.3" font-size="26" fill="#2e7b35" text-anchor="end" letter-spacing="0.73" stroke="#2e7b35" stroke-width="0.4" >1</text>
<text x="2273.7" y="864.3" font-size="26" fill="#2e7b35" text-anchor="end" letter-spacing="0.73" stroke="#2e7b35" stroke-width="0.4" >-1</text>
<text x="2369.0" y="864.3" font-size="26" fill="#222" text-anchor="end" stroke="#222" stroke-width="0.4" >双平</text>
<text x="1847.0" y="912.4" font-size="26" fill="#aaa" text-anchor="start" letter-spacing="0.20" stroke="#aaa" stroke-width="0.4" >15:14:51</text>
<text x="2083.4" y="912.4" font-size="26" fill="#2e7b35" text-anchor="end" letter-spacing="0.40" stroke="#2e7b35" stroke-width="0.4" >110.93</text>
<text x="2200.7" y="912.4" font-size="26" fill="#2e7b35" text-anchor="end" letter-spacing="0.73" stroke="#2e7b35" stroke-width="0.4" >18</text>
<text x="2273.7" y="912.4" font-size="26" fill="#2e7b35" text-anchor="end" letter-spacing="0.73" stroke="#2e7b35" stroke-width="0.4" >-10</text>
<text x="2369.0" y="912.4" font-size="26" fill="#2e7b35" text-anchor="end" stroke="#2e7b35" stroke-width="0.4" >多平</text>
</g>
<path d="M2089.3,791 h5.8 v10.5 h4.6 l-7.5,11 l-7.5,-11 h4.6 Z" fill="#2e7b35"/>
<rect x="1830" y="660" width="555" height="46" fill="#e6e7e8"/>
<rect x="1953.5" y="664" width="1.5" height="40" fill="#d0d0d0"/>
<rect x="2120" y="664" width="1.5" height="40" fill="#d0d0d0"/>
<rect x="2220" y="664" width="1.5" height="40" fill="#d0d0d0"/>
<rect x="2302" y="664" width="1.5" height="40" fill="#d0d0d0"/>
<text x="1941.0" y="694" font-size="26" fill="#222" text-anchor="end" stroke="#222" stroke-width="0.4" >时间</text>
<text x="2107.0" y="694" font-size="26" fill="#222" text-anchor="end" stroke="#222" stroke-width="0.4" >价格</text>
<text x="2207.0" y="694" font-size="26" fill="#222" text-anchor="end" stroke="#222" stroke-width="0.4" >现手</text>
<text x="2286.0" y="694" font-size="26" fill="#222" text-anchor="end" stroke="#222" stroke-width="0.4" >增仓</text>
<text x="2370.0" y="694" font-size="26" fill="#222" text-anchor="end" stroke="#222" stroke-width="0.4" >性质</text>
<rect x="2385" y="165" width="1.6" height="739" fill="#333"/>
<rect x="2387.6" y="165" width="1.6" height="739" fill="#333"/>
<rect x="2389" y="166" width="553" height="1.3" fill="#333"/>
<text x="2392.0" y="196" font-size="25" fill="#111" text-anchor="start" stroke="#111" stroke-width="0.4" >日内成交价</text>
<rect x="2514" y="223.5" width="390" height="1.6" fill="#e0e0e0"/>
<rect x="2902.5" y="223.5" width="1.6" height="664" fill="#e0e0e0"/>
<rect x="2514" y="887" width="390" height="1.6" fill="#e0e0e0"/>
<rect x="2513" y="223.5" width="1.6" height="664" fill="#a8a8a8"/>
<text x="2503.2" y="234.0" font-size="26" fill="#888" text-anchor="end" letter-spacing="0.15" stroke="#888" stroke-width="0.4" >111.260</text>
<text x="2503.2" y="307.7" font-size="26" fill="#888" text-anchor="end" letter-spacing="0.15" stroke="#888" stroke-width="0.4" >111.199</text>
<text x="2503.2" y="381.4" font-size="26" fill="#888" text-anchor="end" letter-spacing="0.15" stroke="#888" stroke-width="0.4" >111.138</text>
<text x="2503.2" y="455.1" font-size="26" fill="#888" text-anchor="end" letter-spacing="0.15" stroke="#888" stroke-width="0.4" >111.077</text>
<text x="2503.2" y="528.8" font-size="26" fill="#888" text-anchor="end" letter-spacing="0.15" stroke="#888" stroke-width="0.4" >111.016</text>
<text x="2503.2" y="602.5" font-size="26" fill="#888" text-anchor="end" letter-spacing="0.15" stroke="#888" stroke-width="0.4" >110.954</text>
<text x="2503.2" y="676.2" font-size="26" fill="#888" text-anchor="end" letter-spacing="0.15" stroke="#888" stroke-width="0.4" >110.893</text>
<text x="2503.2" y="749.9" font-size="26" fill="#888" text-anchor="end" letter-spacing="0.15" stroke="#888" stroke-width="0.4" >110.832</text>
<text x="2503.2" y="823.6" font-size="26" fill="#888" text-anchor="end" letter-spacing="0.15" stroke="#888" stroke-width="0.4" >110.771</text>
<text x="2503.2" y="897.3000000000001" font-size="26" fill="#888" text-anchor="end" letter-spacing="0.15" stroke="#888" stroke-width="0.4" >110.710</text>
<rect x="2706.1" y="222" width="1.8" height="666" fill="#707070"/>
<rect x="2705.1" y="224.0" width="2.9" height="2" fill="#e03c3c"/>
<rect x="2681.5" y="236.1" width="26.5" height="2" fill="#e03c3c"/>
<rect x="2708.0" y="236.1" width="25.5" height="2" fill="#4cb54c"/>
<rect x="2702.3" y="248.1" width="5.7" height="2" fill="#e03c3c"/>
<rect x="2708.0" y="248.1" width="10.4" height="2" fill="#4cb54c"/>
<rect x="2698.5" y="260.1" width="9.5" height="2" fill="#e03c3c"/>
<rect x="2708.0" y="260.1" width="14.1" height="2" fill="#4cb54c"/>
<rect x="2672.9" y="272.2" width="35.1" height="2" fill="#e03c3c"/>
<rect x="2708.0" y="272.2" width="19.3" height="2" fill="#4cb54c"/>
<rect x="2687.1" y="284.2" width="20.9" height="2" fill="#e03c3c"/>
<rect x="2708.0" y="284.2" width="27.4" height="2" fill="#4cb54c"/>
<rect x="2670.6" y="296.3" width="37.4" height="2" fill="#e03c3c"/>
<rect x="2708.0" y="296.3" width="35.0" height="2" fill="#4cb54c"/>
<rect x="2663.5" y="308.4" width="44.5" height="2" fill="#e03c3c"/>
<rect x="2708.0" y="308.4" width="38.3" height="2" fill="#4cb54c"/>
<rect x="2673.9" y="320.4" width="34.1" height="2" fill="#e03c3c"/>
<rect x="2708.0" y="320.4" width="45.4" height="2" fill="#4cb54c"/>
<rect x="2651.7" y="332.4" width="56.3" height="2" fill="#e03c3c"/>
<rect x="2708.0" y="332.4" width="52.5" height="2" fill="#4cb54c"/>
<rect x="2659.7" y="344.5" width="48.3" height="2" fill="#e03c3c"/>
<rect x="2708.0" y="344.5" width="47.7" height="2" fill="#4cb54c"/>
<rect x="2626.6" y="356.6" width="81.4" height="2" fill="#e03c3c"/>
<rect x="2708.0" y="356.6" width="82.3" height="2" fill="#4cb54c"/>
<rect x="2668.2" y="368.6" width="39.8" height="2" fill="#e03c3c"/>
<rect x="2708.0" y="368.6" width="90.3" height="2" fill="#4cb54c"/>
<rect x="2656.9" y="380.6" width="51.1" height="2" fill="#e03c3c"/>
<rect x="2708.0" y="380.6" width="60.5" height="2" fill="#4cb54c"/>
<rect x="2652.6" y="392.7" width="55.4" height="2" fill="#e03c3c"/>
<rect x="2708.0" y="392.7" width="58.6" height="2" fill="#4cb54c"/>
<rect x="2666.8" y="404.8" width="41.2" height="2" fill="#e03c3c"/>
<rect x="2708.0" y="404.8" width="52.5" height="2" fill="#4cb54c"/>
<rect x="2610.0" y="416.8" width="98.0" height="2" fill="#e03c3c"/>
<rect x="2708.0" y="416.8" width="109.2" height="2" fill="#4cb54c"/>
<rect x="2627.5" y="428.9" width="80.5" height="2" fill="#e03c3c"/>
<rect x="2708.0" y="428.9" width="104.5" height="2" fill="#4cb54c"/>
<rect x="2580.2" y="440.9" width="127.8" height="2" fill="#e03c3c"/>
<rect x="2708.0" y="440.9" width="109.2" height="2" fill="#4cb54c"/>
<rect x="2579.8" y="453.0" width="128.2" height="2" fill="#e03c3c"/>
<rect x="2708.0" y="453.0" width="140.9" height="2" fill="#4cb54c"/>
<rect x="2563.7" y="465.0" width="144.3" height="2" fill="#e03c3c"/>
<rect x="2708.0" y="465.0" width="118.2" height="2" fill="#4cb54c"/>
<rect x="2586.4" y="477.1" width="121.6" height="2" fill="#e03c3c"/>
<rect x="2708.0" y="477.1" width="140.9" height="2" fill="#4cb54c"/>
<rect x="2597.3" y="489.1" width="110.7" height="2" fill="#e03c3c"/>
<rect x="2708.0" y="489.1" width="140.0" height="2" fill="#4cb54c"/>
<rect x="2590.6" y="501.2" width="117.4" height="2" fill="#e03c3c"/>
<rect x="2708.0" y="501.2" width="132.9" height="2" fill="#4cb54c"/>
<rect x="2591.6" y="513.2" width="116.4" height="2" fill="#e03c3c"/>
<rect x="2708.0" y="513.2" width="147.1" height="2" fill="#4cb54c"/>
<rect x="2617.1" y="525.2" width="90.9" height="2" fill="#e03c3c"/>
<rect x="2708.0" y="525.2" width="137.6" height="2" fill="#4cb54c"/>
<rect x="2559.2" y="537.3" width="148.8" height="2" fill="#e03c3c"/>
<rect x="2708.0" y="537.3" width="196.0" height="2" fill="#4cb54c"/>
<rect x="2591.1" y="549.4" width="116.9" height="2" fill="#e03c3c"/>
<rect x="2708.0" y="549.4" width="172.9" height="2" fill="#4cb54c"/>
<rect x="2603.4" y="561.4" width="104.6" height="2" fill="#e03c3c"/>
<rect x="2708.0" y="561.4" width="96.7" height="2" fill="#4cb54c"/>
<rect x="2523.8" y="573.5" width="184.2" height="2" fill="#e03c3c"/>
<rect x="2708.0" y="573.5" width="151.8" height="2" fill="#4cb54c"/>
<rect x="2535.1" y="585.5" width="172.9" height="2" fill="#e03c3c"/>
<rect x="2708.0" y="585.5" width="160.6" height="2" fill="#4cb54c"/>
<rect x="2582.7" y="597.5" width="125.3" height="2" fill="#e03c3c"/>
<rect x="2708.0" y="597.5" width="177.8" height="2" fill="#4cb54c"/>
<rect x="2619.1" y="609.6" width="88.9" height="2" fill="#e03c3c"/>
<rect x="2708.0" y="609.6" width="133.6" height="2" fill="#4cb54c"/>
<rect x="2619.6" y="621.7" width="88.4" height="2" fill="#e03c3c"/>
<rect x="2708.0" y="621.7" width="107.5" height="2" fill="#4cb54c"/>
<rect x="2545.9" y="633.7" width="162.1" height="2" fill="#e03c3c"/>
<rect x="2708.0" y="633.7" width="129.6" height="2" fill="#4cb54c"/>
<rect x="2597.5" y="645.8" width="110.5" height="2" fill="#e03c3c"/>
<rect x="2708.0" y="645.8" width="148.3" height="2" fill="#4cb54c"/>
<rect x="2623.5" y="657.8" width="84.5" height="2" fill="#e03c3c"/>
<rect x="2708.0" y="657.8" width="171.4" height="2" fill="#4cb54c"/>
<rect x="2622.0" y="669.9" width="86.0" height="2" fill="#e03c3c"/>
<rect x="2708.0" y="669.9" width="91.8" height="2" fill="#4cb54c"/>
<rect x="2638.7" y="681.9" width="69.3" height="2" fill="#e03c3c"/>
<rect x="2708.0" y="681.9" width="95.8" height="2" fill="#4cb54c"/>
<rect x="2663.3" y="694.0" width="44.7" height="2" fill="#e03c3c"/>
<rect x="2708.0" y="694.0" width="67.8" height="2" fill="#4cb54c"/>
<rect x="2684.9" y="706.0" width="23.1" height="2" fill="#e03c3c"/>
<rect x="2708.0" y="706.0" width="27.5" height="2" fill="#4cb54c"/>
<rect x="2642.7" y="718.0" width="65.3" height="2" fill="#e03c3c"/>
<rect x="2708.0" y="718.0" width="25.0" height="2" fill="#4cb54c"/>
<rect x="2633.8" y="730.1" width="74.2" height="2" fill="#e03c3c"/>
<rect x="2708.0" y="730.1" width="75.6" height="2" fill="#4cb54c"/>
<rect x="2672.1" y="742.1" width="35.9" height="2" fill="#e03c3c"/>
<rect x="2708.0" y="742.1" width="72.2" height="2" fill="#4cb54c"/>
<rect x="2682.0" y="754.2" width="26.0" height="2" fill="#e03c3c"/>
<rect x="2708.0" y="754.2" width="34.9" height="2" fill="#4cb54c"/>
<rect x="2658.4" y="766.2" width="49.6" height="2" fill="#e03c3c"/>
<rect x="2708.0" y="766.2" width="39.8" height="2" fill="#4cb54c"/>
<rect x="2669.2" y="778.3" width="38.8" height="2" fill="#e03c3c"/>
<rect x="2708.0" y="778.3" width="50.6" height="2" fill="#4cb54c"/>
<rect x="2651.0" y="790.4" width="57.0" height="2" fill="#e03c3c"/>
<rect x="2708.0" y="790.4" width="48.1" height="2" fill="#4cb54c"/>
<rect x="2654.9" y="802.4" width="53.1" height="2" fill="#e03c3c"/>
<rect x="2708.0" y="802.4" width="51.1" height="2" fill="#4cb54c"/>
<rect x="2608.3" y="814.5" width="99.7" height="2" fill="#e03c3c"/>
<rect x="2708.0" y="814.5" width="93.8" height="2" fill="#4cb54c"/>
<rect x="2597.5" y="826.5" width="110.5" height="2" fill="#e03c3c"/>
<rect x="2708.0" y="826.5" width="104.1" height="2" fill="#4cb54c"/>
<rect x="2632.8" y="838.6" width="75.2" height="2" fill="#e03c3c"/>
<rect x="2708.0" y="838.6" width="103.6" height="2" fill="#4cb54c"/>
<rect x="2654.0" y="850.6" width="54.0" height="2" fill="#e03c3c"/>
<rect x="2708.0" y="850.6" width="68.7" height="2" fill="#4cb54c"/>
<rect x="2674.1" y="862.7" width="33.9" height="2" fill="#e03c3c"/>
<rect x="2708.0" y="862.7" width="46.6" height="2" fill="#4cb54c"/>
<rect x="2702.1" y="874.7" width="5.9" height="2" fill="#e03c3c"/>
<rect x="2708.0" y="874.7" width="25.0" height="2" fill="#4cb54c"/>
<rect x="2708.0" y="886.8" width="4.9" height="2" fill="#4cb54c"/>
<rect x="2942" y="4" width="36" height="900" fill="#dedede"/>
<rect x="2942" y="4" width="1.2" height="900" fill="#9a9a9a"/>
<rect x="2943.2" y="4" width="5" height="900" fill="#cacaca"/>
<rect x="2948.2" y="4" width="1.6" height="900" fill="#c0c0c0"/>
<rect x="2949.8" y="4" width="26" height="900" fill="#d9d9d9"/>
<rect x="2975.5" y="4" width="2.5" height="900" fill="#ececec"/>
<rect x="2956" y="277" width="16" height="270" rx="8" fill="#ababab"/></svg>
</body></html>
